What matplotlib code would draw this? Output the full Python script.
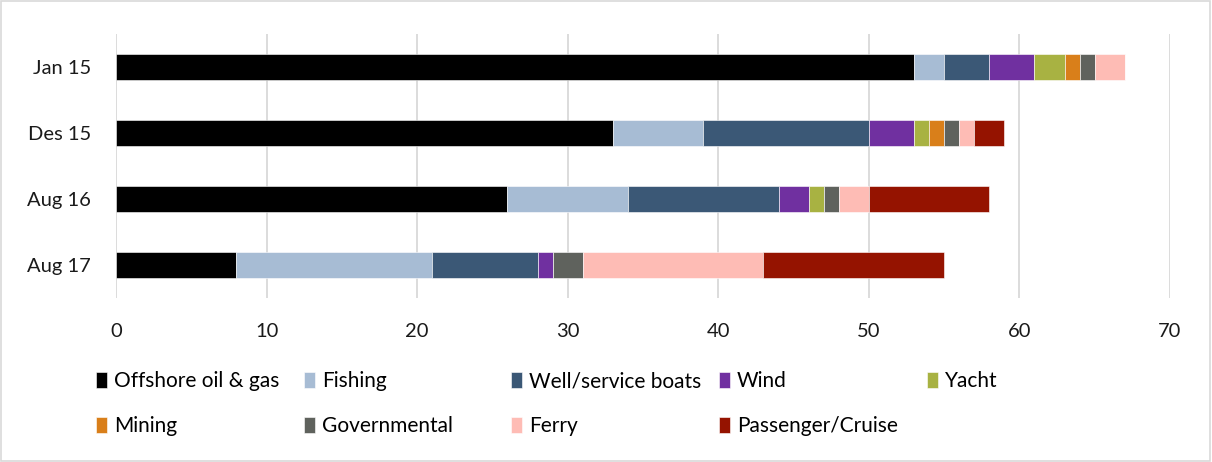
import matplotlib.pyplot as plt
import numpy as np

plt.rcParams['font.family'] = ['Lato', 'DejaVu Sans']

periods = ['Jan 15', 'Des 15', 'Aug 16', 'Aug 17']
segments = ['Offshore oil & gas', 'Fishing', 'Well/service boats', 'Wind', 'Yacht',
            'Mining', 'Governmental', 'Ferry', 'Passenger/Cruise']
colors = ['#000000', '#a7bcd4', '#3b5876', '#7030a0', '#a8b242',
          '#d97f1a', '#5f625d', '#febcb5', '#951300']

offshore = [53, 33, 26, 8]
fishing = [2, 6, 8, 13]
well = [3, 11, 10, 7]
wind = [3, 3, 2, 1]
yacht = [2, 1, 1, 0]
mining = [1, 1, 0, 0]
governmental = [1, 1, 1, 2]
ferry = [2, 1, 2, 12]
passenger = [0, 2, 8, 12]

series = [offshore, fishing, well, wind, yacht, mining, governmental, ferry, passenger]

fig = plt.figure(figsize=(12.12, 4.62), dpi=100)
ax = fig.add_axes([116 / 1212, 1 - 298 / 462, (1170 - 116) / 1212, 264 / 462])

y = np.arange(len(periods))
left = np.zeros(len(periods))
handles = []
for name, vals, col in zip(segments, series, colors):
    vals = np.array(vals, dtype=float)
    h = ax.barh(y, vals, left=left, height=0.4, color=col, edgecolor='white',
                linewidth=0.4, label=name)
    handles.append(h)
    left += vals

ax.set_ylim(3.5, -0.5)
ax.set_xlim(0, 70)
ax.set_xticks(range(0, 71, 10))
ax.set_yticks(y)
ax.set_yticklabels(periods)
ax.grid(axis='x', color='#d9d9d9', linewidth=1.3)
ax.set_axisbelow(True)
for s in ax.spines.values():
    s.set_visible(False)
ax.tick_params(length=0, labelsize=14.5, colors='#1a1a1a')
ax.tick_params(axis='x', pad=18)
ax.tick_params(axis='y', pad=18)

# Excel-style legend: equal-width columns, filled row by row
col_x = [96, 304, 511, 719, 927]
for c in range(5):
    idx = [i for i in (c, c + 5) if i < len(segments)]
    fig.legend([handles[i] for i in idx], [segments[i] for i in idx],
               loc='upper left', bbox_to_anchor=(col_x[c] / 1212, 1 - 371 / 462),
               frameon=False, fontsize=15, handlelength=0.55, handleheight=0.8,
               handletextpad=0.3, labelspacing=1.2, borderpad=0, borderaxespad=0)

fig.patches.append(plt.Rectangle((0.001, 0.002), 0.997, 0.995, transform=fig.transFigure,
                                 fill=False, edgecolor='#d9d9d9', linewidth=1.2))

fig.savefig('out.png', dpi=100)
